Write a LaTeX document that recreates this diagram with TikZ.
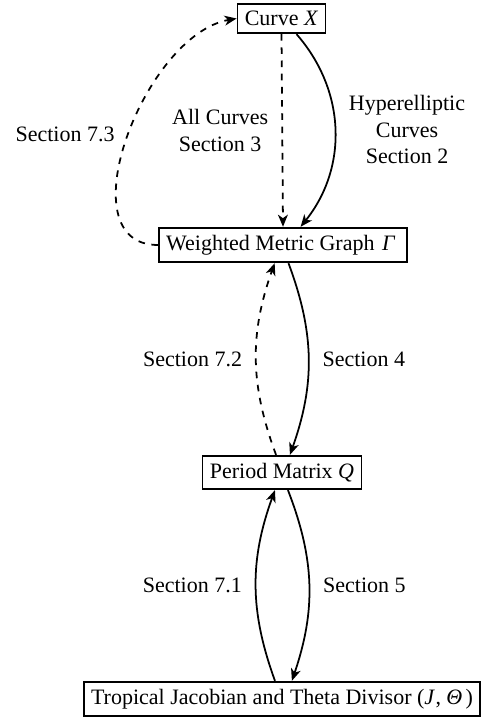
\documentclass[tikz,border=0pt]{standalone}
\usepackage{fontspec}
\setmainfont{Liberation Serif}
\usetikzlibrary{arrows.meta}
\begin{document}
\begin{tikzpicture}[x=0.4545pt,y=-0.4545pt,
    >={Stealth[length=5.5pt,width=4.5pt,inset=1.6pt]},
    box/.style={draw,thick},
    link/.style={->,thick},
    dlink/.style={->,thick,dashed}]
      \useasboundingbox (0,0) rectangle (483,719);
      \draw
        (281.5,18.5) node[box] (curve){Curve \textit{X}}
        (283,245) node[box] (graph){Weighted Metric Graph\kern1pt\ \textit{Γ}\kern2pt}
        (282,472.5) node[box] (period){Period Matrix \textit{Q}}
        (282,699) node[box] (jac){Tropical Jacobian and Theta Divisor (\textit{J}\kern0.3pt,\kern2.4pt\textit{Θ}\kern1.5pt)};
      \begin{scope}[align=center,every node/.style={inner sep=6pt}]
        \draw[dlink] (curve.south) to node[left]{All Curves\\Section 3} (graph.north);
        \draw[link] ([xshift=6.8pt]curve.south) to[bend left=40] node[right]{Hyperelliptic\\Curves\\Section 2} ([xshift=8pt]graph.north);
        \draw[dlink] (graph.west) to[out=180,in=190] node[left,pos=0.51]{Section 7.3} (curve.west);
        \draw[link] ([xshift=2.5pt]graph.south) to[bend left=20] node[right]{Section 4} ([xshift=3.6pt]period.north);
        \draw[dlink] ([xshift=-2.7pt]period.north) to[bend left=20] node[left]{Section 7.2} ([xshift=-3.8pt]graph.south);
        \draw[link] ([xshift=2.7pt]period.south) to[bend left=20] node[right]{Section 5} ([xshift=4.5pt]jac.north);
        \draw[link] ([xshift=-3.2pt]jac.north) to[bend left=20] node[left]{Section 7.1} ([xshift=-3.2pt]period.south);
      \end{scope}
    \end{tikzpicture}
\end{document}
